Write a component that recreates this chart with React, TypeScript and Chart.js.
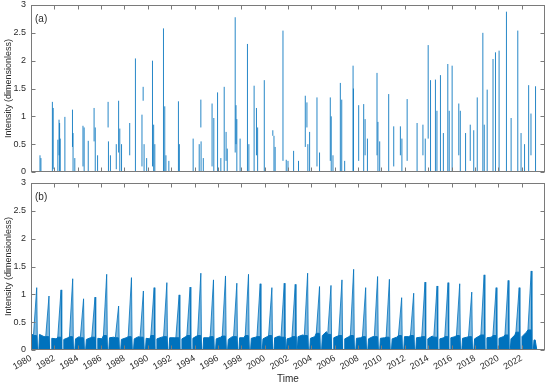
import React, { useEffect, useRef } from 'react';
import { Chart, registerables } from 'chart.js';

Chart.register(...registerables);
Chart.defaults.font.family = '"Liberation Sans", Arial, sans-serif';

// ---------- axes ----------
const yearTicks = [1980, 1982, 1984, 1986, 1988, 1990, 1992, 1994, 1996, 1998, 2000, 2002, 2004, 2006, 2008, 2010, 2012, 2014, 2016, 2018, 2020, 2022];
const yTicks = [0, 0.5, 1, 1.5, 2, 2.5, 3];
const xMin = 1980;
const xMax = 2024;

// ---------- panel (a): event spikes (date, top, bottom of trace) ----------
const aDates = [1980.77, 1980.85, 1981.83, 1981.9, 1982.3, 1982.4, 1982.45, 1982.5, 1982.9, 1983.55, 1983.6, 1983.75, 1984.45, 1984.55, 1984.9, 1985.4, 1985.5, 1985.7, 1986.6, 1986.63, 1986.8, 1987.3, 1987.5, 1987.6, 1987.75, 1988.45, 1988.94, 1989.5, 1989.6, 1989.68, 1989.9, 1990.4, 1990.5, 1990.6, 1991.34, 1991.45, 1991.55, 1991.8, 1992.62, 1992.7, 1993.88, 1994.4, 1994.54, 1994.56, 1994.75, 1995.5, 1995.65, 1995.97, 1996.25, 1996.54, 1996.7, 1996.8, 1997.48, 1997.55, 1997.62, 1997.9, 1998.53, 1998.65, 1999.1, 1999.3, 1999.4, 1999.97, 2000.7, 2000.8, 2000.9, 2001.57, 2001.85, 2002.0, 2002.48, 2002.9, 2003.48, 2003.62, 2003.7, 2003.85, 2004.48, 2004.7, 2005.62, 2005.7, 2005.85, 2006.48, 2006.6, 2006.85, 2007.57, 2007.6, 2008.05, 2008.48, 2008.6, 2008.8, 2009.62, 2009.7, 2009.85, 2010.62, 2011.05, 2011.62, 2011.75, 2012.2, 2013.05, 2013.55, 2013.75, 2014.0, 2014.2, 2014.62, 2014.75, 2015.05, 2015.3, 2015.68, 2015.8, 2016.05, 2016.62, 2016.75, 2017.2, 2017.6, 2017.9, 2018.2, 2018.68, 2018.8, 2019.05, 2019.55, 2019.76, 2020.07, 2020.7, 2021.1, 2021.67, 2021.95, 2022.25, 2022.6, 2022.8, 2023.19];
const aHigh = [0.3, 0.25, 1.26, 1.15, 0.58, 0.94, 0.88, 0.6, 0.99, 1.12, 0.7, 0.25, 0.83, 0.8, 0.56, 1.15, 0.8, 0.3, 1.26, 0.55, 0.3, 0.5, 1.28, 0.78, 0.5, 0.88, 2.04, 1.03, 1.53, 0.5, 0.25, 2.0, 0.85, 0.5, 2.58, 1.18, 0.3, 0.2, 1.27, 0.5, 0.6, 0.5, 1.3, 0.55, 0.25, 1.23, 0.97, 1.43, 0.25, 1.53, 0.72, 0.42, 2.78, 1.2, 0.95, 0.6, 2.3, 0.5, 1.55, 1.15, 0.8, 1.65, 0.75, 0.65, 0.45, 2.54, 0.22, 0.2, 0.38, 0.2, 1.37, 1.25, 0.5, 0.72, 1.34, 0.35, 1.34, 1.0, 0.3, 1.6, 1.3, 0.2, 1.91, 1.5, 1.2, 1.22, 0.95, 0.6, 1.78, 0.9, 0.55, 1.4, 0.82, 0.82, 0.6, 1.31, 0.88, 0.85, 0.6, 2.28, 1.65, 1.66, 1.1, 1.74, 0.7, 1.94, 1.1, 1.91, 1.23, 1.1, 0.7, 0.85, 0.75, 1.34, 2.5, 0.85, 1.48, 2.03, 2.15, 2.18, 2.88, 0.97, 2.54, 0.7, 0.5, 1.56, 1.05, 1.54];
const aLow = [0, 0, 0, 0.05, 0, 0.3, 0, 0, 0, 0.45, 0, 0, 0.1, 0, 0, 0.55, 0, 0, 0.8, 0, 0, 0.05, 0.35, 0, 0, 0.3, 0, 0.1, 1.28, 0, 0, 0.1, 0, 0, 0, 0, 0, 0, 0, 0, 0, 0, 0.8, 0, 0, 0.1, 0, 0, 0, 0, 0.2, 0, 0.35, 0.5, 0, 0, 0, 0, 0, 0.3, 0, 0, 0.65, 0, 0, 0.2, 0, 0, 0, 0, 0.45, 0.8, 0, 0, 0.1, 0, 0.2, 0, 0, 0, 0, 0, 0, 0, 0.2, 0, 0.3, 0, 0.3, 0, 0, 0, 0.1, 0.3, 0, 0.2, 0, 0.3, 0, 0.6, 0, 0, 0, 0, 0, 0, 0, 0, 0.3, 0, 0, 0.2, 0, 0, 0, 0, 0, 0, 0, 0, 0, 0, 0, 0, 0, 0, 0.3, 0];

// ---------- panel (b): yearly peaks and background band ----------
const bPeakDates = [1980.49, 1981.54, 1982.57, 1983.57, 1984.5, 1985.48, 1986.48, 1987.5, 1988.6, 1989.62, 1990.54, 1991.63, 1992.68, 1993.62, 1994.54, 1995.62, 1996.65, 1997.62, 1998.62, 1999.62, 2000.62, 2001.68, 2002.62, 2003.68, 2004.7, 2005.68, 2006.62, 2007.62, 2008.65, 2009.67, 2010.68, 2011.73, 2012.76, 2013.73, 2014.76, 2015.7, 2016.7, 2017.73, 2018.79, 2019.82, 2020.85, 2021.79, 2022.82];
const bPeaks = [1.12, 0.97, 1.08, 1.28, 0.92, 0.95, 1.36, 0.79, 1.3, 1.06, 1.12, 1.21, 0.99, 1.13, 1.38, 1.26, 1.33, 1.2, 1.36, 1.19, 1.12, 1.2, 1.18, 1.38, 1.14, 1.16, 1.26, 1.45, 1.12, 1.32, 1.27, 0.94, 1.02, 1.22, 1.15, 1.21, 1.19, 1.04, 1.35, 1.12, 1.25, 1.12, 1.42];
const bBandPre = [0.26, 0.24, 0.23, 0.24, 0.22, 0.23, 0.26, 0.22, 0.24, 0.23, 0.26, 0.24, 0.22, 0.26, 0.26, 0.24, 0.25, 0.24, 0.26, 0.24, 0.26, 0.23, 0.24, 0.26, 0.3, 0.28, 0.26, 0.26, 0.24, 0.24, 0.23, 0.26, 0.26, 0.24, 0.23, 0.24, 0.26, 0.24, 0.27, 0.26, 0.27, 0.32, 0.36];
const bBandPost = [0.28, 0.21, 0.19, 0.2, 0.19, 0.21, 0.22, 0.19, 0.2, 0.21, 0.2, 0.22, 0.2, 0.21, 0.22, 0.2, 0.19, 0.22, 0.21, 0.2, 0.22, 0.2, 0.24, 0.21, 0.26, 0.22, 0.2, 0.21, 0.2, 0.21, 0.2, 0.24, 0.22, 0.2, 0.2, 0.22, 0.21, 0.2, 0.22, 0.21, 0.2, 0.24, 0.18];
const bBandMid = [0.24, 0.2, 0.22, 0.24, 0.22, 0.2, 0.23, 0.22, 0.24, 0.2, 0.23, 0.22, 0.24, 0.25, 0.22, 0.23, 0.24, 0.22, 0.23, 0.24, 0.25, 0.22, 0.27, 0.24, 0.33, 0.25, 0.24, 0.22, 0.24, 0.22, 0.23, 0.24, 0.23, 0.25, 0.22, 0.24, 0.23, 0.25, 0.23, 0.24, 0.27, 0.32, 0.18];
const bStart = 0.3;
const bEnd = 2023.3;

const BLUE = '#0072BD';
const TEXT = '#2b2b2b';

const framePlugin = {
  id: 'frame',
  afterDraw(chart: any, _a: any, opts: any) {
    const { ctx, chartArea: a, scales } = chart;
    const x = scales.x;
    const y = scales.y;
    const L = Math.round(a.left) + 0.5;
    const R = Math.round(a.right) - 0.5;
    const T = Math.round(a.top) + 0.5;
    const B = Math.round(a.bottom) - 0.5;
    ctx.save();
    ctx.strokeStyle = '#7a7a7a';
    ctx.lineWidth = 1;
    ctx.strokeRect(L, T, R - L, B - T);
    ctx.beginPath();
    yearTicks.forEach((v) => {
      const px = Math.round(x.getPixelForValue(v)) + 0.5;
      ctx.moveTo(px, B); ctx.lineTo(px, B - 4);
      ctx.moveTo(px, T); ctx.lineTo(px, T + 4);
    });
    yTicks.forEach((v) => {
      const py = Math.round(y.getPixelForValue(v)) + 0.5;
      ctx.moveTo(L, py); ctx.lineTo(L + 4, py);
      ctx.moveTo(R, py); ctx.lineTo(R - 4, py);
    });
    ctx.stroke();
    ctx.fillStyle = TEXT;
    ctx.font = '10px "Liberation Sans", Arial, sans-serif';
    ctx.textBaseline = 'middle';
    ctx.textAlign = 'left';
    ctx.fillText(opts.label, a.left + 4, a.top + 14);
    ctx.restore();
  },
};

function makeScales(showX: boolean) {
  return {
    x: {
      type: 'linear',
      min: xMin,
      max: xMax,
      display: showX,
      grid: { display: false, drawTicks: false },
      border: { display: false },
      afterBuildTicks: (s: any) => { s.ticks = yearTicks.map((v) => ({ value: v })); },
      afterFit: (s: any) => {
        if (showX) s.height = 38;
        s.paddingLeft = 0;
        s.paddingRight = 0;
      },
      ticks: {
        autoSkip: false,
        minRotation: 30,
        maxRotation: 30,
        padding: 3,
        color: TEXT,
        font: { size: 9 },
        callback: (v: any) => String(v),
      },
      title: {
        display: showX,
        text: 'Time',
        color: TEXT,
        font: { size: 10 },
        padding: { top: 0, bottom: 3 },
      },
    },
    y: {
      type: 'linear',
      min: 0,
      max: 3,
      grid: { display: false, drawTicks: false },
      border: { display: false },
      afterBuildTicks: (s: any) => { s.ticks = yTicks.map((v) => ({ value: v })); },
      afterFit: (s: any) => { s.width = 31; s.paddingTop = 0; s.paddingBottom = 0; },
      ticks: {
        padding: 5,
        color: TEXT,
        font: { size: 9 },
        callback: (v: any) => String(v),
      },
      title: {
        display: true,
        text: 'Intensity (dimensionless)',
        color: TEXT,
        font: { size: 9 },
        padding: { top: 3, bottom: 0 },
      },
    },
  };
}

function spikePoints() {
  const pts: any[] = [];
  aDates.forEach((d, i) => {
    pts.push({ x: d, y: aLow[i] });
    pts.push({ x: d, y: aHigh[i] });
    pts.push({ x: d, y: null });
  });
  return pts;
}

function bandPoints() {
  const pts: any[] = [{ x: xMin, y: 0 }, { x: xMin, y: bStart }];
  const n = bPeakDates.length;
  for (let i = 0; i < n; i++) {
    const p = bPeakDates[i];
    const next = i + 1 < n ? bPeakDates[i + 1] : bEnd;
    pts.push({ x: p - 0.28, y: bBandPre[i] });
    pts.push({ x: p - 0.02, y: bBandPre[i] });
    pts.push({ x: p + 0.06, y: 0 });
    pts.push({ x: p + 0.18, y: 0 });
    pts.push({ x: p + 0.24, y: bBandPost[i] });
    pts.push({ x: Math.min((p + next) / 2 + 0.1, next - 0.05), y: bBandMid[i] });
  }
  pts.push({ x: bEnd, y: 0 });
  return pts;
}

function peakPoints() {
  const pts: any[] = [];
  bPeakDates.forEach((p, i) => {
    pts.push({ x: p - 0.3, y: 0 });
    pts.push({ x: p - 0.28, y: bBandPre[i] });
    pts.push({ x: p, y: bPeaks[i] });
    pts.push({ x: p + 0.06, y: 0 });
  });
  return pts;
}

export default function App() {
  const refA = useRef<HTMLCanvasElement>(null);
  const refB = useRef<HTMLCanvasElement>(null);

  useEffect(() => {
    const ca = new Chart(refA.current as HTMLCanvasElement, {
      type: 'line',
      data: {
        datasets: [
          {
            data: spikePoints(),
            borderColor: 'rgba(0,114,189,0.85)',
            borderWidth: 1,
            pointRadius: 0,
            spanGaps: false,
            fill: false,
          },
        ],
      },
      options: {
        animation: false,
        responsive: false,
        events: [],
        layout: { padding: { left: 0, right: 5, top: 5, bottom: 6 } },
        plugins: { legend: { display: false }, tooltip: { enabled: false }, frame: { label: '(a)' } } as any,
        scales: makeScales(false) as any,
      },
      plugins: [framePlugin],
    } as any);

    const cb = new Chart(refB.current as HTMLCanvasElement, {
      type: 'line',
      data: {
        datasets: [
          {
            data: bandPoints(),
            borderColor: BLUE,
            backgroundColor: BLUE,
            borderWidth: 1,
            pointRadius: 0,
            fill: 'origin',
          },
          {
            data: peakPoints(),
            borderColor: 'rgba(0,114,189,0.8)',
            backgroundColor: 'rgba(0,114,189,0.5)',
            borderWidth: 1,
            pointRadius: 0,
            fill: 'origin',
          },
        ],
      },
      options: {
        animation: false,
        responsive: false,
        events: [],
        layout: { padding: { left: 0, right: 5, top: 5, bottom: 0 } },
        plugins: { legend: { display: false }, tooltip: { enabled: false }, frame: { label: '(b)' } } as any,
        scales: makeScales(true) as any,
      },
      plugins: [framePlugin],
    } as any);

    return () => {
      ca.destroy();
      cb.destroy();
    };
  }, []);

  return (
    <div style={{ position: 'fixed', left: 0, top: 0, width: 550, height: 388, background: '#fff' }}>
      <canvas ref={refA} width={550} height={178} style={{ position: 'absolute', left: 0, top: 0, display: 'block' }} />
      <canvas ref={refB} width={550} height={210} style={{ position: 'absolute', left: 0, top: 178, display: 'block' }} />
    </div>
  );
}
